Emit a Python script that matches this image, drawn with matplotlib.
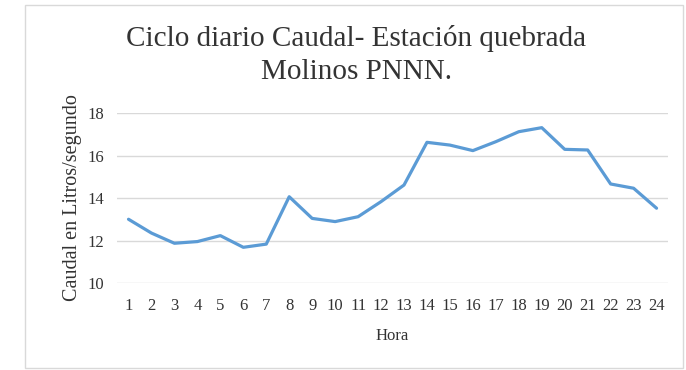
import matplotlib
matplotlib.use("Agg")
import matplotlib.pyplot as plt
from matplotlib.patches import Rectangle

# Hourly discharge cycle
horas = list(range(1, 25))
caudal = [13.0, 12.35, 11.87, 11.95, 12.23, 11.68, 11.83, 14.06, 13.04, 12.89,
          13.12, 13.83, 14.61, 16.62, 16.49, 16.23, 16.65, 17.12, 17.31, 16.29,
          16.26, 14.66, 14.46, 13.52]
y_ticks = [10, 12, 14, 16, 18]

titulo = "Ciclo diario Caudal- Estación quebrada\nMolinos PNNN."
etiqueta_y = "Caudal en Litros/segundo"
etiqueta_x = "Hora"

plt.rcParams["font.family"] = ["Liberation Serif", "DejaVu Serif"]
texto = "#333333"

fig = plt.figure(figsize=(6.86, 3.70), dpi=100)
fig.patch.set_facecolor("white")

# light frame around the chart area
fig.patches.append(Rectangle((0.0364, 0.0054), 0.9592, 0.9811, transform=fig.transFigure,
                             fill=False, edgecolor="#d9d9d9", linewidth=1.0))

ax = fig.add_axes([0.1706, 0.2351, 0.8032, 0.4595])
ax.plot(horas, caudal, color="#5b9bd5", linewidth=2.3, solid_joinstyle="round",
        solid_capstyle="round", zorder=3)

ax.set_xlim(0.5, 24.5)
ax.set_ylim(10, 18)
ax.set_xticks(horas)
ax.set_xticklabels([str(h) for h in horas])
ax.set_yticks(y_ticks)
ax.yaxis.grid(True, color="#d9d9d9", linewidth=1.0)
ax.set_axisbelow(True)
for s in ax.spines.values():
    s.set_visible(False)
ax.tick_params(axis="both", length=0, labelsize=12, colors=texto)
ax.tick_params(axis="y", pad=9)
ax.tick_params(axis="x", pad=11)

ax.set_xlabel(etiqueta_x, fontsize=12, color=texto, labelpad=10)
ax.set_ylabel(etiqueta_y, fontsize=14.5, color=texto, labelpad=4)

fig.text(0.519, 0.932, titulo, ha="center", va="top", fontsize=21, color=texto,
         linespacing=1.35)

fig.savefig("out.png", dpi=100)
